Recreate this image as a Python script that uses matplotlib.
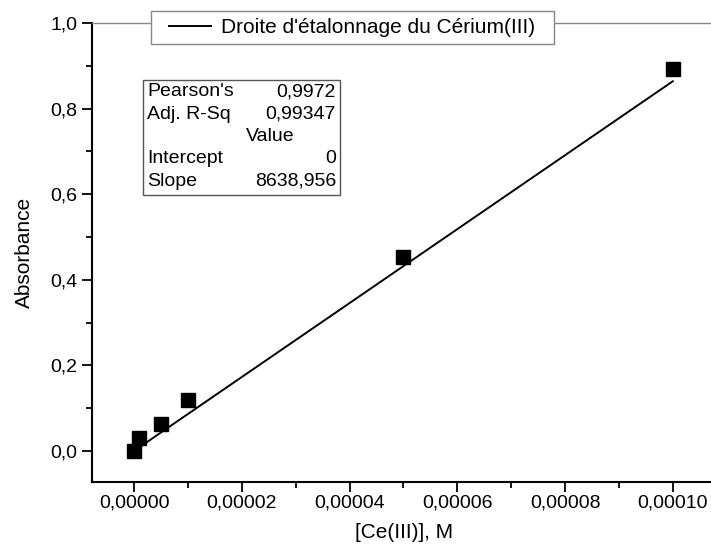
import matplotlib.pyplot as plt
from matplotlib.ticker import MultipleLocator, FuncFormatter
from matplotlib.patches import Rectangle
import numpy as np

plt.rcParams['font.family'] = ['Liberation Sans', 'DejaVu Sans']

# calibration points
conc = [0.0, 1e-6, 5e-6, 1e-5, 5e-5, 1e-4]
absorb = [0.0, 0.030, 0.064, 0.119, 0.454, 0.893]

# fit results
slope = 8638.956
intercept = 0.0
stat_names = ["Pearson's", "Adj. R-Sq", "", "Intercept", "Slope"]
stat_values = ["0,9972", "0,99347", "Value", "0", "8638,956"]

W, H = 711, 558
fig = plt.figure(figsize=(W / 100, H / 100), dpi=100)
ax = fig.add_axes([92 / W, 76 / H, 625 / W, 459 / H])

fit_x = np.array([0.0, 1e-4])
fit_line, = ax.plot(fit_x, slope * fit_x + intercept, color='black', lw=1.4,
                    label="Droite d'étalonnage du Cérium(III)")
ax.plot(conc, absorb, 's', color='black', ms=9.5, zorder=3)

ax.set_xlim(-7.8e-6, 1.082e-4)
ax.set_ylim(-0.0725, 1.0)

ax.xaxis.set_major_locator(MultipleLocator(2e-5))
ax.xaxis.set_minor_locator(MultipleLocator(1e-5))
ax.yaxis.set_major_locator(MultipleLocator(0.2))
ax.yaxis.set_minor_locator(MultipleLocator(0.1))
ax.xaxis.set_major_formatter(FuncFormatter(lambda v, p: f"{v:.5f}".replace('.', ',').replace('-', '')))
ax.yaxis.set_major_formatter(FuncFormatter(lambda v, p: f"{v:.1f}".replace('.', ',').replace('-', '')))

ax.tick_params(which='both', direction='out', top=False, right=False, labelsize=14, width=1.3)
ax.tick_params(which='major', length=7)
ax.tick_params(which='minor', length=4)
ax.tick_params(axis='x', pad=2)

ax.spines['left'].set_linewidth(1.5)
ax.spines['bottom'].set_linewidth(1.5)
ax.spines['top'].set_color('#888888')
ax.spines['top'].set_linewidth(1.0)
ax.spines['right'].set_visible(False)

ax.set_xlabel("[Ce(III)], M", fontsize=15, labelpad=8)
ax.set_ylabel("Absorbance", fontsize=15, labelpad=12)

# legend box sitting on the top spine
fig.patches.append(Rectangle((151 / W, 1 - 44 / H), 403 / W, 33 / H,
                             transform=fig.transFigure, facecolor='white',
                             edgecolor='#888888', lw=1.0))
fig.legend(handles=[fit_line], loc='center', bbox_to_anchor=(352.5 / W, 1 - 27.5 / H),
           fontsize=15, frameon=False, handlelength=2.0, handletextpad=0.5,
           borderpad=0.25)

# fit statistics box
fig.patches.append(Rectangle((143 / W, 1 - 195 / H), 197 / W, 115 / H,
                             transform=fig.transFigure, facecolor='white',
                             edgecolor='#555555', lw=1.0))
for i, (name, val) in enumerate(zip(stat_names, stat_values)):
    y = 1 - (92 + 22.3 * i) / H
    fig.text(147 / W, y, name, fontsize=14, va='center', ha='left')
    if val == "Value":
        fig.text(246 / W, y, val, fontsize=14, va='center', ha='left')
    else:
        fig.text(336 / W, y, val, fontsize=14, va='center', ha='right')

fig.savefig('out.png', dpi=100)
